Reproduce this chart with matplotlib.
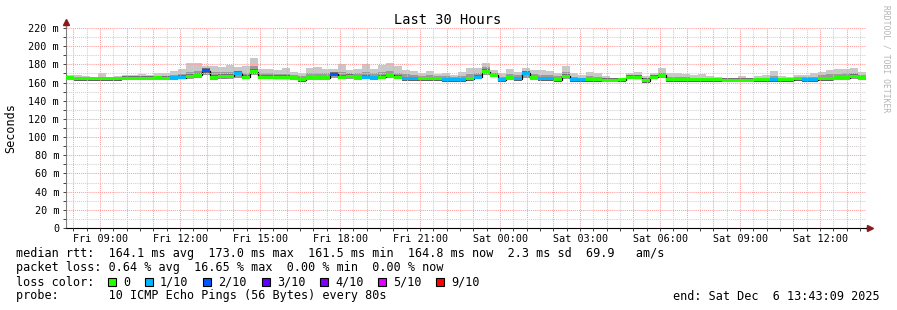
import numpy as np
import matplotlib
matplotlib.use("Agg")
import matplotlib.pyplot as plt
import matplotlib.dates as mdates
from matplotlib.ticker import FuncFormatter, MultipleLocator
from matplotlib.patches import Rectangle

# one value per 18 min step
median = [165, 164, 164, 164, 164, 164, 164, 164.5, 164.5, 164.5,
          164.5, 165, 164.5, 165, 165.5, 167, 168, 173, 166, 166.5,
          167, 170, 166, 172, 166, 166, 165.5, 165.5, 165, 163,
          165, 165, 165, 169, 166, 167, 165, 166, 165, 166,
          168, 166, 164, 164, 164, 164, 164, 163, 163, 163,
          164, 166, 172, 168, 163, 165, 164, 170, 165, 164,
          164, 163, 167, 163, 163, 163, 163, 162.5, 162.5, 163,
          166, 165.5, 162, 166, 168, 163, 163, 163, 163, 163,
          163, 163, 162.5, 162.5, 162.5, 162.5, 163, 163, 163, 163,
          163, 164, 163, 163, 164, 164, 165, 165, 167, 165]
loss = [0, 0, 0, 0, 0, 0, 0, 0, 0, 0,
        0, 0, 0, 1, 1, 0, 0, 2, 0, 0,
        0, 1, 0, 0, 0, 0, 0, 0, 0, 0,
        0, 0, 0, 2, 0, 0, 0, 1, 1, 0,
        0, 0, 1, 1, 0, 0, 0, 1, 1, 1,
        0, 1, 0, 0, 1, 0, 1, 1, 0, 1,
        1, 0, 0, 1, 1, 0, 0, 0, 0, 0,
        0, 0, 0, 0, 0, 0, 0, 0, 0, 0,
        0, 0, 0, 0, 0, 0, 0, 0, 1, 0,
        0, 0, 1, 1, 0, 0, 0, 0, 0, 0]
smoke_hi = [168, 168, 167, 166, 170, 166, 167, 168, 168, 169,
            168, 170, 171, 173, 175, 181, 181, 178, 178, 177,
            179, 177, 178, 187, 175, 175, 174, 176, 172, 170,
            176, 177, 175, 175, 180, 174, 175, 180, 175, 179,
            181, 178, 174, 173, 170, 173, 169, 170, 168, 172,
            176, 176, 182, 174, 170, 175, 172, 176, 174, 174,
            173, 171, 178, 170, 168, 172, 171, 167, 165, 165,
            170, 172, 167, 170, 176, 171, 170, 169, 168, 169,
            167, 166, 165, 165, 167, 165, 167, 168, 173, 167,
            166, 168, 168, 170, 172, 174, 175, 175, 176, 172]
smoke_mid = [166.5, 166, 165.5, 165, 166, 165, 165, 166, 166, 166,
             166, 166.5, 167, 168, 169, 172, 173, 175, 172, 172,
             172, 173, 171, 178, 170, 170, 169, 169, 168, 167,
             170, 171, 170, 172, 172, 170, 170, 172, 170, 172,
             173, 171, 169, 168, 167, 168, 167, 167, 166, 167,
             169, 170, 177, 171, 166, 169, 168, 173, 169, 168,
             168, 167, 172, 166, 165, 167, 166, 165, 164, 164,
             168, 168, 165, 168, 171, 166, 166, 166, 165, 165,
             165, 164.5, 164, 164, 164.5, 164, 165, 165, 167, 165,
             165, 166, 166, 166, 168, 169, 169, 170, 171, 168]
smoke_lo = [163, 163, 162, 163, 163, 163, 162, 163, 163, 163,
            163, 163, 163, 163, 164, 164, 165, 168, 163, 164,
            164, 165, 164, 168, 164, 164, 164, 164, 163, 162,
            163, 164, 164, 165, 164, 164, 163, 164, 163, 164,
            165, 164, 163, 163, 163, 163, 163, 162, 162, 162,
            163, 164, 168, 166, 162, 163, 163, 165, 163, 163,
            163, 162, 164, 162, 162, 162, 162, 162, 162, 162,
            164, 164, 161, 164, 165, 162, 162, 162, 162, 162,
            162, 162, 162, 161.5, 161.5, 161.5, 162, 162, 162, 162,
            162, 163, 162, 162, 163, 163, 163, 163, 164, 163]

loss_labels = ["0", "1/10", "2/10", "3/10", "4/10", "5/10", "9/10"]
loss_colors = ["#26ff00", "#00b8ff", "#0059ff", "#5e00ff", "#7e00ff", "#dd00ff", "#ff0000"]

start = np.datetime64("2025-12-05T07:43:09")
step = np.timedelta64(18, "m")

W, H = 897, 310
mono = "DejaVu Sans Mono"
plt.rcParams["font.family"] = mono

fig = plt.figure(figsize=(W / 100, H / 100), dpi=100)
fig.patch.set_facecolor("white")
ax = fig.add_axes([66 / W, (H - 228) / H, 800 / W, 200 / H])

n = len(median)
t = mdates.date2num(start + step * np.arange(n + 1))
med = np.array(median, dtype=float)

# smoke
ax.fill_between(t, np.append(smoke_lo, smoke_lo[-1]), np.append(smoke_hi, smoke_hi[-1]),
                step="post", color="#c8c8c8", lw=0, zorder=1)
ax.fill_between(t, np.append(smoke_lo, smoke_lo[-1]), np.append(smoke_mid, smoke_mid[-1]),
                step="post", color="#9a9a9a", lw=0, zorder=1.1)
ax.fill_between(t, np.append(med - 2, med[-1] - 2), np.append(med + 2.5, med[-1] + 2.5),
                step="post", color="#707070", lw=0, zorder=1.2)

# median line coloured by loss
ax.step(t, np.append(med, med[-1]), where="post", color="black", lw=0.9, zorder=1.5)
ax.bar(t[:-1], 3.4, width=np.diff(t), bottom=med - 1.7, align="edge",
       color=[loss_colors[c] for c in loss], linewidth=0, antialiased=False, zorder=3)

ax.set_xlim(t[0], t[-1])
ax.set_ylim(0, 220)

ax.xaxis.set_major_locator(mdates.HourLocator())
ax.xaxis.set_minor_locator(mdates.MinuteLocator(byminute=[30]))

def xfmt(v, pos):
    d = mdates.num2date(v)
    return d.strftime("%a %H:%M") if d.hour % 3 == 0 else ""

ax.xaxis.set_major_formatter(FuncFormatter(xfmt))
ax.yaxis.set_major_locator(MultipleLocator(20))
ax.yaxis.set_minor_locator(MultipleLocator(10))
ax.yaxis.set_major_formatter(FuncFormatter(lambda v, p: "0" if v == 0 else "%d m" % v))

ax.set_axisbelow(False)
ax.grid(which="major", color="#ff9c9c", ls=(0, (1, 1)), lw=0.75)
ax.grid(which="minor", color="#d0d0d0", ls=(0, (1, 1)), lw=0.75)

ax.tick_params(which="both", length=2, width=0.7, colors="#404040", labelcolor="black",
               labelsize=7.3, pad=2)
ax.tick_params(axis="y", pad=3)

for s in ["top", "right"]:
    ax.spines[s].set_visible(False)
ax.spines["left"].set_color("#808080")
ax.spines["bottom"].set_color("black")

# axis arrows
ax.plot([0, 0], [1, 1.025], transform=ax.transAxes, color="#808080", lw=1, clip_on=False)
ax.plot([0], [1.03], transform=ax.transAxes, marker="^", ms=4, color="#8b1a1a", clip_on=False)
ax.plot([1, 1.004], [0, 0], transform=ax.transAxes, color="black", lw=1, clip_on=False)
ax.plot([1.005], [0], transform=ax.transAxes, marker=">", ms=4, color="#8b1a1a", clip_on=False)

def px(x, y):
    return x / W, 1 - y / H

fig.text(*px(448, 20), "Last 30 Hours", ha="center", va="center", fontsize=9.8)
fig.text(*px(11, 128), "Seconds", ha="center", va="center", rotation=90, fontsize=8.5)
fig.text(*px(886, 5), "RRDTOOL / TOBI OETIKER", ha="center", va="top", rotation=270,
         fontsize=5.8, color="#b4b4b4")

fs = 8.5
fig.text(*px(16, 254), "median rtt:  164.1 ms avg  173.0 ms max  161.5 ms min  164.8 ms now  "
         "2.3 ms sd  69.9   am/s", va="center", fontsize=fs)
fig.text(*px(16, 268), "packet loss: 0.64 % avg  16.65 % max  0.00 % min  0.00 % now",
         va="center", fontsize=fs)
fig.text(*px(16, 282), "loss color:", va="center", fontsize=fs)
box_x = [108, 145, 203, 262, 320, 378, 436]
for bx, lab, col in zip(box_x, loss_labels, loss_colors):
    x0, y0 = px(bx, 286)
    fig.add_artist(Rectangle((x0, y0), 8 / W, 8 / H, transform=fig.transFigure,
                             facecolor=col, edgecolor="black", lw=0.8))
    fig.text(*px(bx + 15, 282), lab, va="center", fontsize=fs)
fig.text(*px(16, 296), "probe:       10 ICMP Echo Pings (56 Bytes) every 80s",
         va="center", fontsize=fs)
fig.text(*px(880, 296), "end: Sat Dec  6 13:43:09 2025", ha="right", va="center", fontsize=fs)

fig.savefig("out.png", dpi=100)
